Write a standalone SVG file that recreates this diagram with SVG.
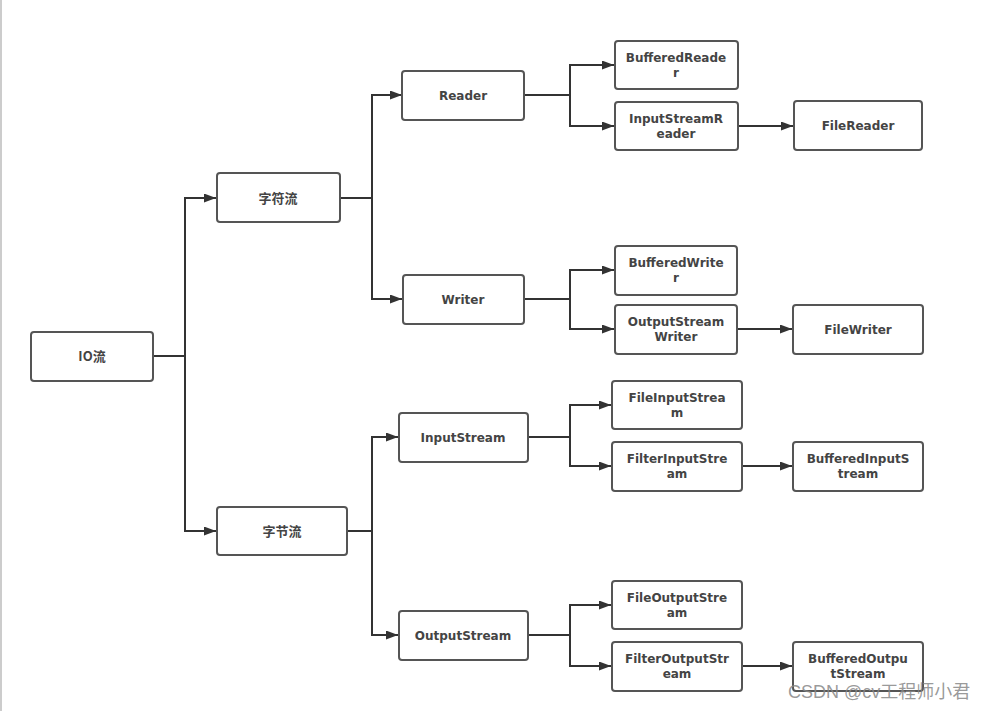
<svg xmlns="http://www.w3.org/2000/svg" width="993" height="711" viewBox="0 0 993 711">
<defs>
<marker id="arr" markerUnits="userSpaceOnUse" markerWidth="13" markerHeight="10" refX="12" refY="4.5" orient="auto">
<path d="M0,0 L12,4.5 L0,9 z" fill="#333"/>
</marker>
<style>
.box{fill:#fff;stroke:#555;stroke-width:2}
.t{font-family:"DejaVu Sans",Verdana,sans-serif;font-weight:bold;font-size:12px;fill:#444;text-anchor:middle}
.c{font-family:"Noto Sans CJK SC",sans-serif;font-weight:bold;font-size:13px;fill:#444;text-anchor:middle}
.ln{fill:none;stroke:#333;stroke-width:2}
.ar{fill:none;stroke:#333;stroke-width:2;marker-end:url(#arr)}
</style>
</defs>
<rect width="993" height="711" fill="#fff"/>
<line x1="1" y1="0" x2="1" y2="711" stroke="#ccc" stroke-width="2"/>
<g id="connectors">
<path class="ln" d="M153,356 H185"/>
<path class="ar" d="M185,356 V198 H216"/>
<path class="ar" d="M185,356 V531 H216"/>
<path class="ln" d="M340,198 H372"/>
<path class="ar" d="M372,198 V95 H402"/>
<path class="ar" d="M372,198 V299 H402"/>
<path class="ln" d="M347,531 H372"/>
<path class="ar" d="M372,531 V437 H398"/>
<path class="ar" d="M372,531 V635 H398"/>
<path class="ln" d="M524,95 H570"/>
<path class="ar" d="M570,95 V65 H614"/>
<path class="ar" d="M570,95 V126 H614"/>
<path class="ln" d="M524,299 H570"/>
<path class="ar" d="M570,299 V270 H614"/>
<path class="ar" d="M570,299 V329 H614"/>
<path class="ln" d="M528,437 H570"/>
<path class="ar" d="M570,437 V405 H611"/>
<path class="ar" d="M570,437 V466 H611"/>
<path class="ln" d="M528,635 H570"/>
<path class="ar" d="M570,635 V605 H611"/>
<path class="ar" d="M570,635 V666 H611"/>
<path class="ar" d="M738,126 H793"/>
<path class="ar" d="M737,329 H792"/>
<path class="ar" d="M742,466 H792"/>
<path class="ar" d="M742,666 H792"/>
</g>
<g id="io"><rect class="box" x="31" y="332" width="122" height="49" rx="3"/><text class="c" x="92" y="361">IO流</text></g>
<g id="zifu"><rect class="box" x="217" y="173" width="123" height="49" rx="3"/><text class="c" x="278" y="203">字符流</text></g>
<g id="zijie"><rect class="box" x="217" y="507" width="130" height="48" rx="3"/><text class="c" x="282" y="536">字节流</text></g>
<g id="reader"><rect class="box" x="402" y="71" width="122" height="49" rx="3"/><text class="t" x="463" y="100">Reader</text></g>
<g id="writer"><rect class="box" x="403" y="275" width="121" height="49" rx="3"/><text class="t" x="463" y="304">Writer</text></g>
<g id="inputstream"><rect class="box" x="399" y="413" width="129" height="49" rx="3"/><text class="t" x="463" y="442">InputStream</text></g>
<g id="outputstream"><rect class="box" x="399" y="611" width="129" height="49" rx="3"/><text class="t" x="463" y="640">OutputStream</text></g>
<g id="bufferedreader"><rect class="box" x="615" y="41" width="123" height="48" rx="3"/><text class="t" x="676" y="62">BufferedReade</text><text class="t" x="676" y="77">r</text></g>
<g id="inputstreamreader"><rect class="box" x="615" y="102" width="123" height="48" rx="3"/><text class="t" x="676" y="123">InputStreamR</text><text class="t" x="676" y="138">eader</text></g>
<g id="filereader"><rect class="box" x="794" y="101" width="128" height="49" rx="3"/><text class="t" x="858" y="130">FileReader</text></g>
<g id="bufferedwriter"><rect class="box" x="615" y="246" width="122" height="49" rx="3"/><text class="t" x="676" y="267">BufferedWrite</text><text class="t" x="676" y="282">r</text></g>
<g id="outputstreamwriter"><rect class="box" x="615" y="305" width="122" height="49" rx="3"/><text class="t" x="676" y="326">OutputStream</text><text class="t" x="676" y="341">Writer</text></g>
<g id="filewriter"><rect class="box" x="793" y="305" width="130" height="49" rx="3"/><text class="t" x="858" y="334">FileWriter</text></g>
<g id="fileinputstream"><rect class="box" x="612" y="381" width="130" height="48" rx="3"/><text class="t" x="677" y="402">FileInputStrea</text><text class="t" x="677" y="417">m</text></g>
<g id="filterinputstream"><rect class="box" x="612" y="442" width="130" height="49" rx="3"/><text class="t" x="677" y="463">FilterInputStre</text><text class="t" x="677" y="478">am</text></g>
<g id="bufferedinputstream"><rect class="box" x="793" y="442" width="130" height="49" rx="3"/><text class="t" x="858" y="463">BufferedInputS</text><text class="t" x="858" y="478">tream</text></g>
<g id="fileoutputstream"><rect class="box" x="612" y="581" width="130" height="48" rx="3"/><text class="t" x="677" y="602">FileOutputStre</text><text class="t" x="677" y="617">am</text></g>
<g id="filteroutputstream"><rect class="box" x="612" y="642" width="130" height="49" rx="3"/><text class="t" x="677" y="663">FilterOutputStr</text><text class="t" x="677" y="678">eam</text></g>
<g id="bufferedoutputstream"><rect class="box" x="793" y="642" width="130" height="49" rx="3"/><text class="t" x="858" y="663">BufferedOutpu</text><text class="t" x="858" y="678">tStream</text></g>
<text x="788" y="698" font-family="'Liberation Sans','Noto Sans CJK SC',sans-serif" font-size="18" fill="#888" fill-opacity="0.85">CSDN @cv工程师小君</text>
</svg>
